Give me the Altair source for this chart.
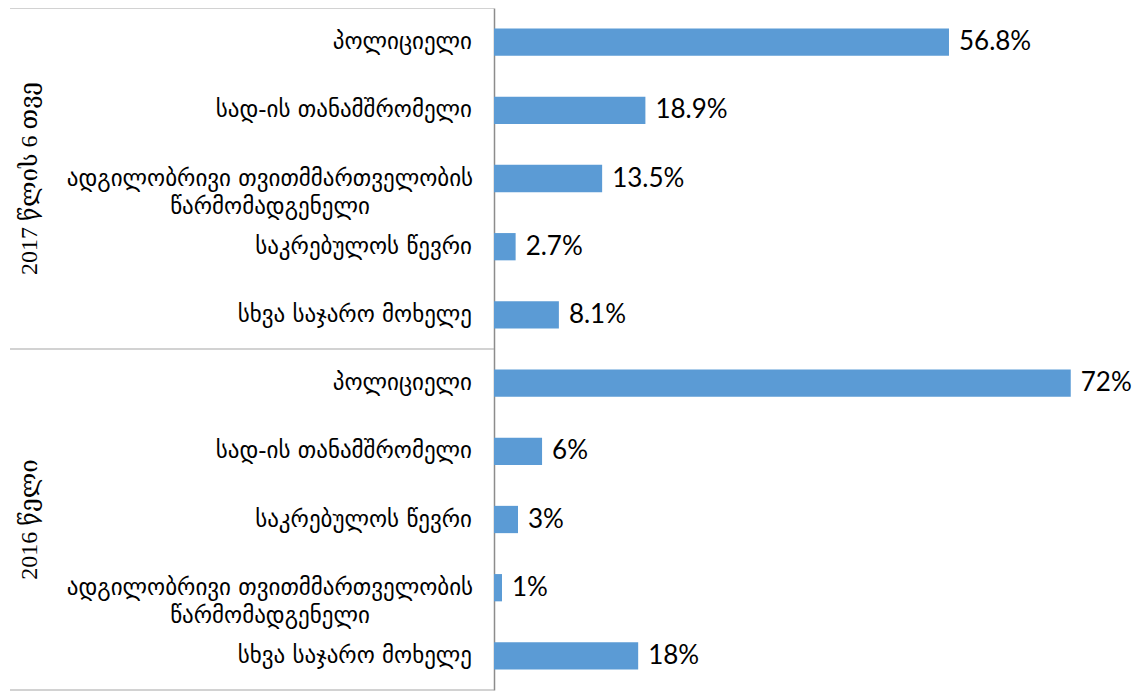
import altair as alt
import pandas as pd

groups = ["2017 წლის 6 თვე", "2016 წელი"]
categories_2017 = [
    "პოლიციელი",
    "სად-ის თანამშრომელი",
    "ადგილობრივი თვითმმართველობის\nწარმომადგენელი",
    "საკრებულოს წევრი",
    "სხვა საჯარო მოხელე",
]
values_2017 = [56.8, 18.9, 13.5, 2.7, 8.1]
categories_2016 = [
    "პოლიციელი",
    "სად-ის თანამშრომელი",
    "საკრებულოს წევრი",
    "ადგილობრივი თვითმმართველობის\nწარმომადგენელი",
    "სხვა საჯარო მოხელე",
]
values_2016 = [72, 6, 3, 1, 18]

rows = []
for gi, (cats, vals) in enumerate([(categories_2017, values_2017), (categories_2016, values_2016)]):
    for i, (c, v) in enumerate(zip(cats, vals)):
        rows.append({"key": f"g{gi}r{i}", "group": groups[gi], "gi": gi, "idx": i,
                     "cat": c, "multi": "\n" in c, "value": v})
df = pd.DataFrame(rows)
keys = list(df["key"])

W, H = 620, 682
STEP = H / 10
OUTER = 0.3
BLUE = "#5B9BD5"
GEO_FONT = "DejaVu Sans"

yscale = alt.Scale(domain=keys, paddingInner=0.6, paddingOuter=OUTER)
xscale = alt.Scale(domain=[0, 77.4])

base = alt.Chart(df)

bars = base.mark_bar(color=BLUE).encode(
    x=alt.X("value:Q", scale=xscale, axis=None),
    y=alt.Y("key:N", scale=yscale, sort=keys,
            axis=alt.Axis(labels=False, ticks=False, title=None, domain=True,
                          domainColor="#8c8c8c", domainWidth=1.5, grid=False)),
)

values_txt = base.transform_calculate(lbl="datum.value + '%'").mark_text(
    align="left", baseline="middle", dx=10, font="Lato", fontSize=26, color="#000000"
).encode(
    x=alt.X("value:Q", scale=xscale),
    y=alt.Y("key:N", scale=yscale, sort=keys),
    text="lbl:N",
)

single = base.transform_filter("!datum.multi").mark_text(
    align="right", baseline="middle", font=GEO_FONT, fontSize=23, color="#000000"
).encode(
    x=alt.value(-22),
    y=alt.Y("key:N", scale=yscale, sort=keys),
    text="cat:N",
)

multi = base.transform_filter("datum.multi").mark_text(
    align="center", baseline="middle", font=GEO_FONT, fontSize=23, color="#000000",
    lineBreak="\n", lineHeight=28
).encode(
    x=alt.value(-224),
    y=alt.Y("key:N", scale=yscale, sort=keys),
    text="cat:N",
)

group_txt = base.transform_filter("datum.idx == 2").mark_text(
    align="center", baseline="middle", angle=270,
    font="Liberation Serif, DejaVu Serif", fontSize=24, color="#000000"
).encode(
    x=alt.value(-464),
    y=alt.Y("key:N", scale=yscale, sort=keys),
    text="group:N",
)

sep_top = base.transform_filter("datum.idx == 0").mark_rule(
    color="#a6a6a6", strokeWidth=1.2, yOffset=-OUTER * STEP
).encode(
    x=alt.value(-484), x2=alt.value(0),
    y=alt.Y("key:N", scale=yscale, sort=keys, bandPosition=0),
)

sep_bottom = base.transform_filter("datum.idx == 4 && datum.gi == 1").mark_rule(
    color="#a6a6a6", strokeWidth=1.2, yOffset=OUTER * STEP
).encode(
    x=alt.value(-484), x2=alt.value(0),
    y=alt.Y("key:N", scale=yscale, sort=keys, bandPosition=1),
)

chart = alt.layer(sep_top, sep_bottom, bars, values_txt, single, multi, group_txt).properties(
    width=W, height=H,
    autosize=alt.AutoSizeParams(type="none"),
    padding={"left": 486, "top": 0, "right": 19, "bottom": 4},
).configure(background="white").configure_view(stroke=None)

chart.save("out.html", embed_options={"renderer": "svg", "actions": False})
